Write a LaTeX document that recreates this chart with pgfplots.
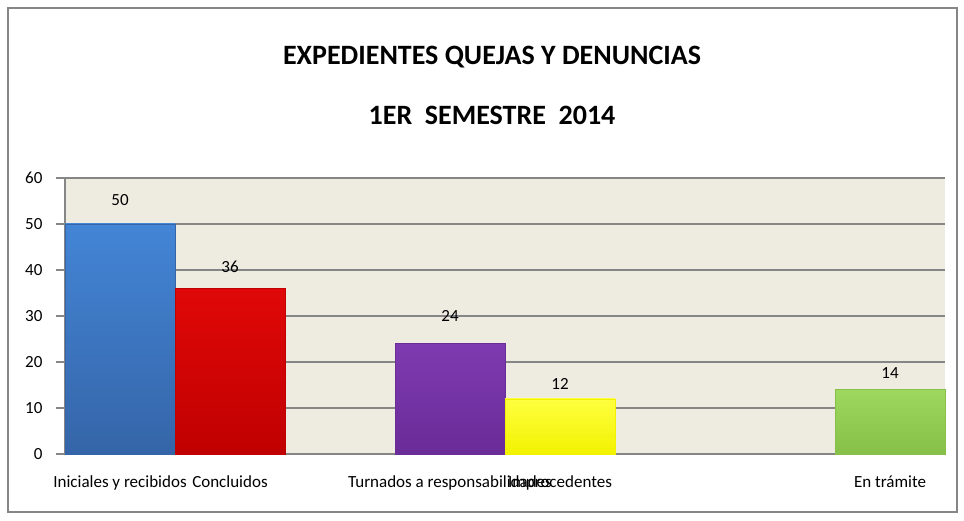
\documentclass[border=0pt]{standalone}
\usepackage{fontspec}
\setmainfont{Carlito}
\usepackage{pgfplots}
\pgfplotsset{compat=1.18}

\definecolor{bgbeige}{HTML}{EEECE1}
\definecolor{gridgray}{HTML}{868686}
\definecolor{cblue}{HTML}{4385D6}
\definecolor{cbluedk}{HTML}{3565A8}
\definecolor{cred}{HTML}{E00808}
\definecolor{creddk}{HTML}{C00000}
\definecolor{cpurple}{HTML}{7E3AB0}
\definecolor{cpurpledk}{HTML}{6A2C98}
\definecolor{cyellow}{HTML}{FFFF40}
\definecolor{cyellowdk}{HTML}{F2F200}
\definecolor{cgreen}{HTML}{9ED85E}
\definecolor{cgreendk}{HTML}{86C048}

\begin{document}
\begin{tikzpicture}[x=1bp,y=1bp]
\path[use as bounding box] (0,0) rectangle (964,521);
\draw[gridgray, line width=1.3bp] (8,9) rectangle (957,513);
\node[font=\fontsize{28bp}{32bp}\selectfont\bfseries] at (492,464) {EXPEDIENTES QUEJAS Y DENUNCIAS};
\node[font=\fontsize{28bp}{32bp}\selectfont\bfseries] at (492,406) {1ER\ \ SEMESTRE\ \ 2014};
\begin{axis}[
    at={(65bp,67bp)}, anchor=south west,
    scale only axis, width=880bp, height=276bp,
    xmin=-0.5, xmax=7.5, ymin=0, ymax=60,
    axis lines*=left,
    axis line style={draw=gridgray, line width=1.3bp},
    axis background/.style={fill=bgbeige},
    ytick={0,10,...,60},
    ymajorgrids, grid style={draw=gridgray, line width=1.3bp},
    tick align=outside, major tick length=9bp,
    ytick style={draw=gridgray, line width=1.3bp},
    xtick={0,1,3,4,7},
    xticklabels={Iniciales y recibidos,Concluidos,Turnados a responsabilidades,Improcedentes,En trámite},
    xtick style={draw=none},
    tick label style={font=\fontsize{17bp}{20bp}\selectfont},
    /pgf/number format/assume math mode=true,
    xticklabel style={yshift=-9bp},
    yticklabel style={xshift=-10bp},
    clip=false,
]
\addplot[ybar, bar width=1, bar shift=0pt, draw=cbluedk, top color=cblue, bottom color=cbluedk] coordinates {(0,50)};
\addplot[ybar, bar width=1, bar shift=0pt, draw=creddk, top color=cred, bottom color=creddk] coordinates {(1,36)};
\addplot[ybar, bar width=1, bar shift=0pt, draw=cpurpledk, top color=cpurple, bottom color=cpurpledk] coordinates {(3,24)};
\addplot[ybar, bar width=1, bar shift=0pt, draw=cyellowdk, top color=cyellow, bottom color=cyellowdk] coordinates {(4,12)};
\addplot[ybar, bar width=1, bar shift=0pt, draw=cgreendk, top color=cgreen, bottom color=cgreendk] coordinates {(7,14)};
% data labels, placed where the reference has them
\addplot[only marks, mark=none, point meta=explicit symbolic,
    nodes near coords, nodes near coords align={center},
    every node near coord/.append style={font=\fontsize{17bp}{20bp}\selectfont, anchor=center}]
    coordinates {(0,55.2)[50] (1,40.6)[36] (3,30)[24] (4,15.2)[12] (7,17.6)[14]};
\end{axis}
\end{tikzpicture}
\end{document}
